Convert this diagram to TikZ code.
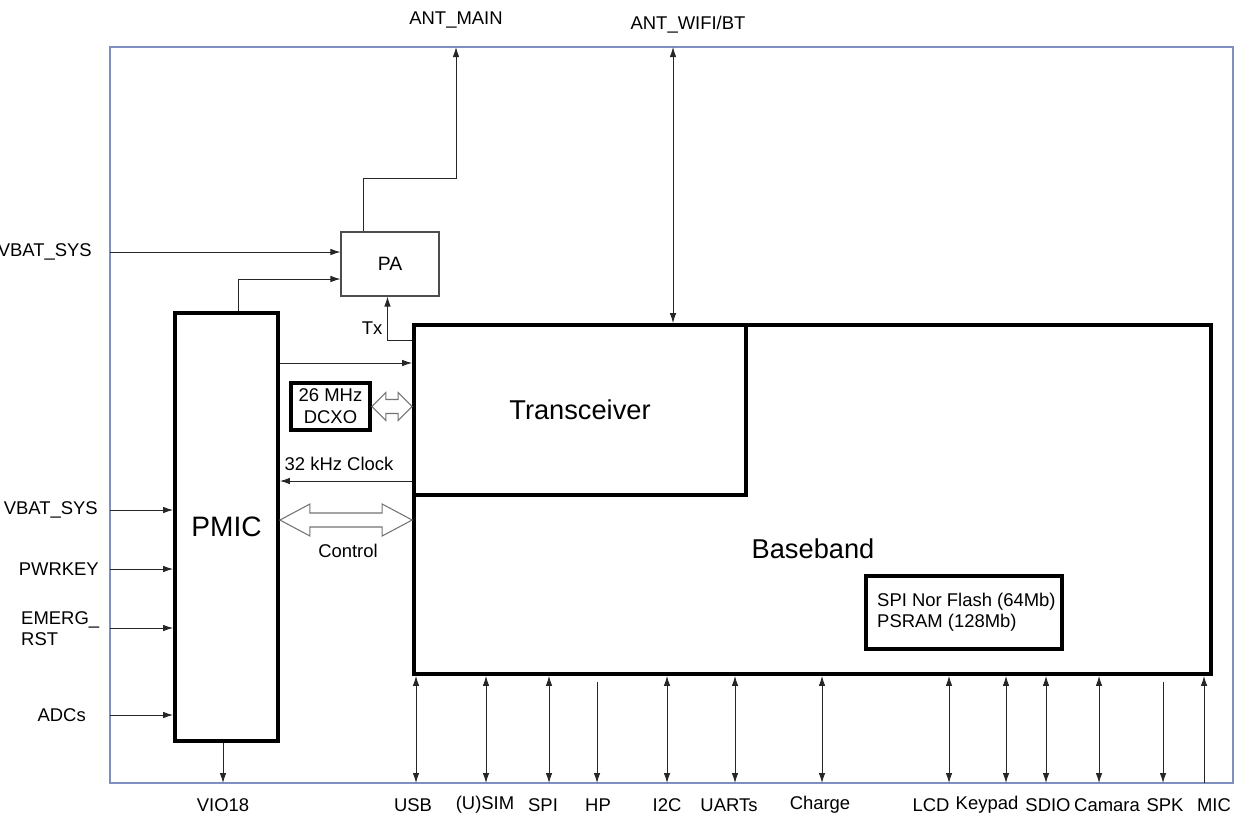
\documentclass[tikz,border=0pt]{standalone}
\usepackage{fontspec}
\setmainfont{Liberation Sans}
\usetikzlibrary{arrows.meta,calc}
\definecolor{framec}{HTML}{7F8FBF}

% hollow bus arrow between two points
\newcommand{\hollowbus}[5]{%
  \draw[hollow] (#1) -- ++(#3,-#4) -- ++(0,#4-#5) -- ($(#2)+(-#3,-#5)$) -- ++(0,#5-#4)
    -- (#2) -- ++(-#3,#4) -- ++(0,#5-#4) -- ($(#1)+(#3,#5)$) -- ++(0,#4-#5) -- cycle;}

\begin{document}
\begin{tikzpicture}[x=0.02cm,y=-0.02cm,>={Latex[length=2mm,width=1.3mm]},
  lbl/.style={font=\fontsize{10.5}{12}\selectfont},
  thinbox/.style={draw=black!70,line width=0.6pt,inner sep=0pt},
  thickbox/.style={draw,line width=2.2pt,inner sep=0pt},
  sig/.style={draw=black!85,line width=0.5pt},
  hollow/.style={draw=black!55,fill=white,line width=0.6pt},
  bidir/.style={sig,<->},
  outdir/.style={sig,->},
  indir/.style={sig,<-}]
  \useasboundingbox (0,0) rectangle (1256,816);
  % outer frame
  \draw[framec,line width=0.6pt] (110,47) rectangle (1233,783);
  % blocks
  \node[thickbox,minimum width=15.94cm,minimum height=6.98cm] (bb) at (812.5,499.5) {};
  \node[font=\fontsize{15.5}{18}\selectfont] (bblabel) at (813,549) {Baseband};
  \node[thickbox,fill=white,minimum width=6.64cm,minimum height=3.4cm,
        font=\fontsize{15.5}{18}\selectfont] (trx) at (580,410) {Transceiver};
  \node[thickbox,minimum width=2.06cm,minimum height=8.56cm,
        font=\fontsize{16}{19}\selectfont] (pmic) at (226.5,527) {PMIC};
  \node[thinbox,minimum width=1.96cm,minimum height=1.28cm,
        font=\fontsize{11}{13}\selectfont] (pa) at (390,264) {PA};
  \node[thickbox,minimum width=1.58cm,minimum height=0.94cm,align=center,
        font=\fontsize{10.5}{12.5}\selectfont] (dcxo) at (330.5,406.5) {26 MHz\\DCXO};
  \node[thickbox,minimum width=3.92cm,minimum height=1.46cm] (flash) at (964,612.5) {};
  \node[lbl,align=left,anchor=west] (flashtxt) at (871,612) {SPI Nor Flash (64Mb)\\PSRAM (128Mb)};

  % antennas
  \coordinate (antmainpin) at (456,47);
  \node[lbl] (antmain) at (456,20) {ANT\_MAIN};
  \draw[outdir] ($(pa.north west)+(23,0)$) |- ($(antmainpin)+(0,131)$) -- (antmainpin);
  \coordinate (wifipin) at (673,47);
  \node[lbl] (wifi) at (688,25) {ANT\_WIFI/BT};
  \draw[bidir] (wifipin) -- (wifipin |- bb.north);

  % PA supply and drive
  \coordinate (vbatpa) at (110,252);
  \node[lbl,anchor=east] (vbatpalbl) at (98,252) {VBAT\_SYS};
  \draw[outdir] (vbatpa) -- (vbatpa -| pa.west);
  \draw[outdir] ($(pmic.north west)+(65,0)$) |- ($(pa.west)+(0,15)$);
  \draw[outdir] ($(bb.north west)+(0,17)$) -| ($(pa.south west)+(47,0)$);
  \node[lbl] (tx) at (372,328) {Tx};

  % PMIC <-> transceiver / baseband
  \draw[outdir] (pmic.east |- 0,363) -- (bb.west |- 0,363);
  \hollowbus{dcxo.east}{bb.west |- dcxo.east}{14}{14}{7}
  \draw[outdir] (bb.west |- 0,481) -- (pmic.east |- 0,481);
  \node[lbl] (clk) at (339,464) {32 kHz Clock};
  \hollowbus{pmic.east |- 0,520}{bb.west |- 0,520}{30}{16}{7}
  \node[lbl] (ctrl) at (348,551) {Control};

  % PMIC inputs
  \foreach \y in {510,569,628,715}
    \draw[outdir] (110,\y) -- (pmic.west |- 0,\y);
  \node[lbl,anchor=east] (vbat) at (104,510) {VBAT\_SYS};
  \node[lbl,anchor=east] (pwrkey) at (105,569) {PWRKEY};
  \node[lbl,anchor=west,align=left] (emerg) at (15,629) {EMERG\_\\RST};
  \node[lbl,anchor=east] (adcs) at (92,715) {ADCs};
  \coordinate (viopin) at (223,783);
  \draw[outdir] (viopin |- pmic.south) -- (viopin);
  \node[lbl] (vio) at (223,805) {VIO18};

  % baseband interfaces
  \foreach \x/\lx/\t/\kind/\gap in {416/413/USB/bidir/0, 486/485/{(U)SIM}/bidir/0,
      549/543/SPI/bidir/0, 597/598/HP/outdir/6, 667/667/I2C/bidir/0,
      735/729/UARTs/bidir/0, 822/820/Charge/bidir/0, 949/931/LCD/bidir/0,
      1006/987/Keypad/bidir/0, 1046/1048/SDIO/bidir/0, 1099/1107/Camara/bidir/0,
      1163/1165/SPK/outdir/6, 1204/1214/MIC/indir/0} {
    \draw[\kind] ($(\x,0 |- bb.south)+(0,\gap)$) -- (\x,783);
    \node[lbl] at (\lx,805) {\t};
  }
\end{tikzpicture}
\end{document}
